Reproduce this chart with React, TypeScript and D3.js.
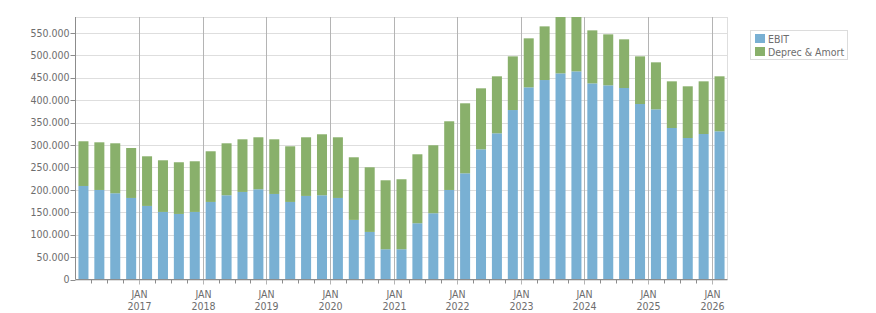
import * as d3 from "d3";

const quarters = [
  "2016Q1", "2016Q2", "2016Q3", "2016Q4",
  "2017Q1", "2017Q2", "2017Q3", "2017Q4",
  "2018Q1", "2018Q2", "2018Q3", "2018Q4",
  "2019Q1", "2019Q2", "2019Q3", "2019Q4",
  "2020Q1", "2020Q2", "2020Q3", "2020Q4",
  "2021Q1", "2021Q2", "2021Q3", "2021Q4",
  "2022Q1", "2022Q2", "2022Q3", "2022Q4",
  "2023Q1", "2023Q2", "2023Q3", "2023Q4",
  "2024Q1", "2024Q2", "2024Q3", "2024Q4",
  "2025Q1", "2025Q2", "2025Q3", "2025Q4",
  "2026Q1",
];

const ebit = [
  208600, 199700, 192400, 181900, 164100, 150700, 146200, 150700,
  173000, 187900, 195300, 201300, 190800, 173000, 186400, 187900,
  181900, 132900, 106100, 67500, 67500, 125500, 147800, 199700,
  236900, 290400, 326100, 378000, 428600, 444900, 459800, 464300,
  437500, 433100, 427100, 391400, 379600, 337900, 315600, 324500,
  330600,
];

const deprec = [
  99700, 106300, 111400, 111400, 110700, 115200, 115300, 113000,
  113000, 115900, 117400, 115900, 121900, 124100, 130800, 136000,
  135300, 139700, 144200, 153800, 156100, 153800, 151600, 153200,
  156100, 136000, 127100, 119700, 109300, 119700, 132000, 131000,
  118200, 113700, 108600, 106300, 104800, 104100, 115300, 117500,
  122600,
];

const yTicks = [0, 50000, 100000, 150000, 200000, 250000, 300000, 350000, 400000, 450000, 500000, 550000];
const seriesNames = ["EBIT", "Deprec & Amort"];

const BLUE = "#79b0d3";
const GREEN = "#89b06b";
const TEXT = "#6d6d6d";
const FONT = "'DejaVu Sans Condensed', 'Liberation Sans', sans-serif";
const FS = 10.5;

export default function App() {
  const width = 876;
  const height = 313;
  const margin = { top: 17, right: 149, bottom: 34, left: 75.5 };
  const x0 = margin.left;
  const x1 = width - margin.right + 0.5;
  const yBottom = height - margin.bottom + 0.5;

  const x = d3
    .scaleBand<string>()
    .domain(quarters)
    .range([x0, x1])
    .paddingInner(0.37)
    .paddingOuter(0.185);

  const y = d3.scaleLinear().domain([0, 585500]).range([yBottom, margin.top]);

  const step = x.step();
  const gap = (step - x.bandwidth()) / 2;
  const edge = (q: string) => (x(q) ?? 0) - gap;

  const fmt = (v: number) => d3.format(",")(v).replace(/,/g, ".");

  const rows = quarters.map((q, i) => ({ q, ebit: ebit[i], deprec: deprec[i] }));
  const stack = d3.stack<(typeof rows)[number]>().keys(["ebit", "deprec"])(rows);
  const colors = [BLUE, GREEN];

  return (
    <svg
      width={width}
      height={height}
      style={{ position: "absolute", left: 0, top: 0, background: "#fff" }}
      fontFamily={FONT}
    >
      <defs>
        <clipPath id="plot">
          <rect x={x0} y={margin.top} width={x1 - x0} height={yBottom - margin.top} />
        </clipPath>
      </defs>

      {/* horizontal grid */}
      {yTicks.map((t) => (
        <line key={t} x1={x0} x2={x1} y1={Math.round(y(t)) + 0.5} y2={Math.round(y(t)) + 0.5} stroke="#dedede" />
      ))}
      <line x1={x0} x2={x1} y1={margin.top + 0.5} y2={margin.top + 0.5} stroke="#dedede" />
      <line x1={x1} x2={x1} y1={margin.top} y2={yBottom} stroke="#dedede" />

      {/* bars */}
      <g clipPath="url(#plot)">
        {stack.map((layer, li) =>
          layer.map((d) => (
            <rect
              key={`${li}-${d.data.q}`}
              x={x(d.data.q)}
              width={x.bandwidth()}
              y={y(d[1])}
              height={y(d[0]) - y(d[1])}
              fill={colors[li]}
            />
          ))
        )}
      </g>

      {/* year lines */}
      {quarters
        .filter((q) => q.endsWith("Q1") && q !== quarters[0])
        .map((q) => {
          const xx = Math.round(edge(q)) + 0.5;
          return (
            <g key={q}>
              <line x1={xx} x2={xx} y1={margin.top} y2={yBottom + 5} stroke="#b4b4b4" />
              <text x={xx} y={298} textAnchor="middle" fontSize={FS} fill={TEXT}>JAN</text>
              <text x={xx} y={310} textAnchor="middle" fontSize={FS} fill={TEXT}>{q.slice(0, 4)}</text>
            </g>
          );
        })}

      {/* quarter ticks */}
      {quarters
        .filter((q) => !q.endsWith("Q1"))
        .map((q) => {
          const xx = Math.round(edge(q)) + 0.5;
          return <line key={q} x1={xx} x2={xx} y1={yBottom} y2={yBottom + 4} stroke="#8c8c8c" />;
        })}

      {/* axes */}
      <line x1={x0} x2={x0} y1={margin.top} y2={yBottom} stroke="#8c8c8c" />
      <line x1={x0} x2={x1} y1={yBottom} y2={yBottom} stroke="#8c8c8c" />

      {yTicks.map((t) => (
        <g key={t}>
          <line x1={x0 - 5} x2={x0} y1={Math.round(y(t)) + 0.5} y2={Math.round(y(t)) + 0.5} stroke="#8c8c8c" />
          <text x={x0 - 6} y={y(t)} dy="0.35em" textAnchor="end" fontSize={FS} fill={TEXT}>
            {fmt(t)}
          </text>
        </g>
      ))}

      {/* legend */}
      <rect x={750.5} y={30.5} width={97} height={29} fill="#fff" stroke="#dcdcdc" />
      {seriesNames.map((name, i) => (
        <g key={name}>
          <rect x={755} y={34 + i * 13} width={10} height={9} fill={colors[i]} />
          <text x={768} y={42.5 + i * 13} fontSize={FS} fill={TEXT}>{name}</text>
        </g>
      ))}
    </svg>
  );
}
